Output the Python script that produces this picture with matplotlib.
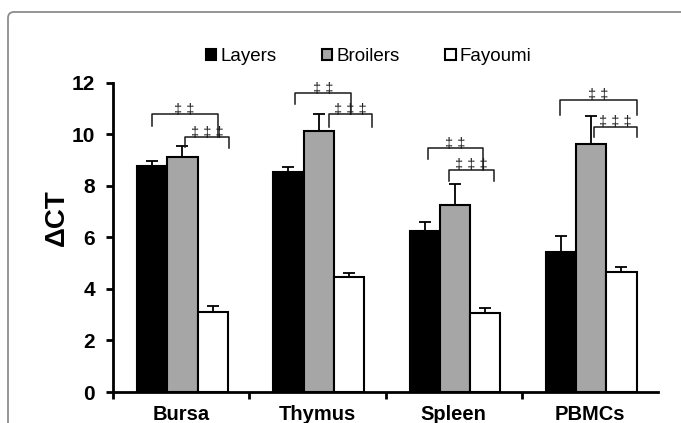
import matplotlib
matplotlib.use("Agg")
import matplotlib.pyplot as plt
import numpy as np
from matplotlib.patches import FancyBboxPatch
from matplotlib.transforms import IdentityTransform

plt.rcParams['font.family'] = ['Liberation Sans', 'DejaVu Sans']

categories = ["Bursa", "Thymus", "Spleen", "PBMCs"]
series_names = ["Layers", "Broilers", "Fayoumi"]
layers = [8.78, 8.52, 6.26, 5.45]
broilers = [9.11, 10.14, 7.25, 9.61]
fayoumi = [3.09, 4.47, 3.05, 4.67]
layers_err = [0.17, 0.19, 0.35, 0.60]
broilers_err = [0.42, 0.64, 0.81, 1.10]
fayoumi_err = [0.25, 0.16, 0.19, 0.17]
y_ticks = [0, 2, 4, 6, 8, 10, 12]

# significance brackets: (category, label, x1_off, x2_off, y_top, y_left_bottom, y_right_bottom)
brackets = [
    (0, "‡ ‡", -0.226, 0.258, 10.78, 10.33, 9.89),
    (0, "‡ ‡ ‡", 0.018, 0.341, 9.89, 9.52, 9.48),
    (1, "‡ ‡", -0.175, 0.234, 11.60, 11.18, 10.78),
    (1, "‡ ‡ ‡", 0.075, 0.388, 10.78, 10.30, 10.30),
    (2, "‡ ‡", -0.200, 0.208, 9.46, 9.03, 8.62),
    (2, "‡ ‡ ‡", -0.042, 0.286, 8.62, 8.17, 8.17),
    (3, "‡ ‡", -0.230, 0.338, 11.34, 10.76, 10.76),
    (3, "‡ ‡ ‡", 0.020, 0.338, 10.30, 9.91, 9.91),
]

fig = plt.figure(figsize=(6.81, 4.23), dpi=100)
ax = fig.add_axes([113 / 681, 1 - 392 / 423, 545 / 681, 309.3 / 423])

x = np.arange(len(categories)) + 0.01
w = 0.222
colors = ["#000000", "#a6a6a6", "#ffffff"]
vals = [layers, broilers, fayoumi]
errs = [layers_err, broilers_err, fayoumi_err]
for k in range(3):
    ax.bar(x + (k - 1) * w, vals[k], w, color=colors[k], edgecolor="black",
           linewidth=1.5, label=series_names[k], zorder=2)
    ax.errorbar(x + (k - 1) * w, vals[k], yerr=[np.zeros(4), errs[k]], fmt="none",
                ecolor="black", elinewidth=1.3, capsize=4, capthick=1.3, zorder=1)

for cat, lab, x1, x2, yt, yl, yr in brackets:
    c = x[cat]
    ax.plot([c + x1, c + x1, c + x2, c + x2], [yl, yt, yt, yr], color="#1a1a1a",
            lw=1.1, zorder=3, clip_on=False)
    ax.text(c + (x1 + x2) / 2, yt - 0.1, lab, ha="center", va="bottom",
            fontsize=10.5, color="#1a1a1a", zorder=4)

ax.set_xlim(-0.5, 3.5)
ax.set_ylim(0, 12)
ax.set_yticks(y_ticks)
ax.set_yticklabels([str(t) for t in y_ticks], fontsize=15, fontweight="bold")
ax.set_xticks(np.arange(4))
ax.set_xticklabels(categories, fontsize=14.5, fontweight="bold")
ax.set_xticks([-0.5, 0.5, 1.5, 2.5], minor=True)
ax.tick_params(axis="x", which="major", length=0, pad=9)
ax.tick_params(axis="x", which="minor", length=5, width=2, direction="out")
ax.tick_params(axis="y", length=5, width=2, direction="out", pad=8)
for s in ["top", "right"]:
    ax.spines[s].set_visible(False)
for s in ["left", "bottom"]:
    ax.spines[s].set_linewidth(2)
ax.set_ylabel("ΔCT", fontsize=20, fontweight="bold")
ax.yaxis.set_label_coords(-0.080, 0.563)

leg = fig.legend(loc="center left", bbox_to_anchor=(206 / 681, 1 - 56.5 / 423), ncol=3,
                 frameon=False, fontsize=13.5, handlelength=0.55, handleheight=0.55,
                 handletextpad=0.2, columnspacing=2.45, borderaxespad=0, borderpad=0)

frame = FancyBboxPatch((8, -30), 700, 423 - 12 + 30, boxstyle="round,pad=0,rounding_size=6",
                       transform=IdentityTransform(), facecolor="none",
                       edgecolor="#8c8c8c", linewidth=1.3, clip_on=False)
fig.add_artist(frame)

fig.savefig("out.png", dpi=100)
